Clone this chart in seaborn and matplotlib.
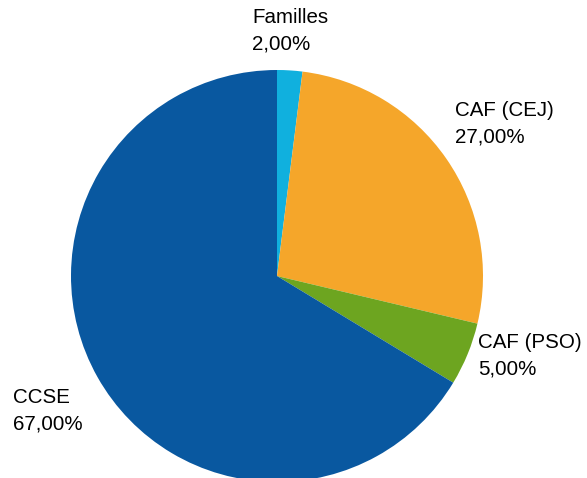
import seaborn as sns
import matplotlib.pyplot as plt

# Data
labels = ['Familles', 'CAF (CEJ)', 'CAF (PSO)', 'CCSE']
values = [2.00, 27.00, 5.00, 67.00]
colors = ['#10b0de', '#f5a62a', '#6da520', '#0958a0']

sns.set_style('white')
plt.rcParams['font.family'] = ['Liberation Sans', 'DejaVu Sans']

W, H = 587, 478
cx, cy, r = 277, 276, 206

fig = plt.figure(figsize=(W / 100, H / 100), dpi=100)
ax = fig.add_axes([0, 0, 1, 1])
palette = sns.color_palette(colors)
ax.pie(values, colors=palette, startangle=90, counterclock=False,
       radius=1, center=(0, 0), wedgeprops=dict(linewidth=0))
ax.set_xlim(-cx / r, (W - cx) / r)
ax.set_ylim(-(H - cy) / r, cy / r)
ax.set_aspect('equal')
ax.axis('off')

# label positions in pixels (left, top)
label_pos = [(252, 8), (455, 101), (478, 333), (13, 388)]
for lab, val, (px, py) in zip(labels, values, label_pos):
    txt = f"{lab}\n{val:.2f}%".replace('.', ',')
    fig.text(px / W, 1 - py / H, txt, ha='left', va='top',
             fontsize=14.8, linespacing=1.5, color='#000000')

plt.savefig('out.png', dpi=100)
